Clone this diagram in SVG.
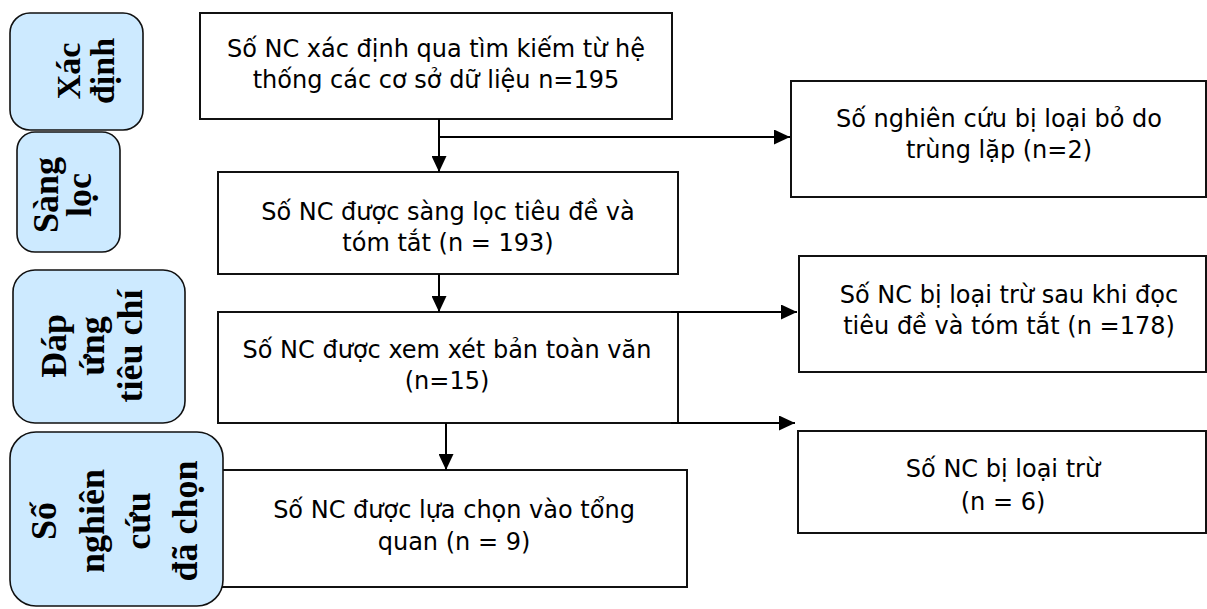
<svg xmlns="http://www.w3.org/2000/svg" width="1207" height="609" viewBox="0 0 1207 609">
<defs>
<style>
.box{fill:#ffffff;stroke:#111111;stroke-width:2}
.lbl{fill:#cdeaff;stroke:#111111;stroke-width:1.6}
.t{font-family:"DejaVu Sans","Noto Sans",sans-serif;font-size:24px;fill:#000;text-anchor:middle}
.v{font-family:"Liberation Serif","Times New Roman",serif;font-weight:bold;font-size:36px;fill:#000;text-anchor:middle}
.c{fill:none;stroke:#000;stroke-width:2}
</style>
<marker id="ah" viewBox="0 0 16 15" refX="16" refY="7.5" markerWidth="16" markerHeight="15" markerUnits="userSpaceOnUse" orient="auto">
<path d="M0,0 L16,7.5 L0,15 z" fill="#000"/>
</marker>
</defs>
<rect width="1207" height="609" fill="#ffffff"/>

<g id="n1">
<rect class="box" x="200" y="13" width="472" height="106"/>
<text class="t" x="436" y="57">Số NC xác định qua tìm kiếm từ hệ</text>
<text class="t" x="436" y="88">thống các cơ sở dữ liệu n=195</text>
</g>
<g id="n2">
<rect class="box" x="218" y="172" width="460" height="102"/>
<text class="t" x="448" y="220">Số NC được sàng lọc tiêu đề và</text>
<text class="t" x="448" y="251">tóm tắt (n = 193)</text>
</g>
<g id="n3">
<rect class="box" x="218" y="312" width="460" height="111"/>
<text class="t" x="447" y="358">Số NC được xem xét bản toàn văn</text>
<text class="t" x="447" y="389">(n=15)</text>
</g>
<g id="n4">
<rect class="box" x="220" y="470" width="467" height="117"/>
<text class="t" x="454" y="518">Số NC được lựa chọn vào tổng</text>
<text class="t" x="454" y="550">quan (n = 9)</text>
</g>
<g id="r1">
<rect class="box" x="791" y="81" width="415" height="116"/>
<text class="t" x="999" y="127">Số nghiên cứu bị loại bỏ do</text>
<text class="t" x="999" y="158">trùng lặp (n=2)</text>
</g>
<g id="r2">
<rect class="box" x="799" y="256" width="407" height="116"/>
<text class="t" x="1009" y="303">Số NC bị loại trừ sau khi đọc</text>
<text class="t" x="1009" y="334">tiêu đề và tóm tắt (n =178)</text>
</g>
<g id="r3">
<rect class="box" x="798" y="431" width="408" height="102"/>
<text class="t" x="1003" y="477">Số NC bị loại trừ</text>
<text class="t" x="1003" y="510">(n = 6)</text>
</g>

<g id="l1">
<rect class="lbl" x="10" y="13" width="133" height="117" rx="20"/>
<g transform="translate(0,71) rotate(-90)">
<text class="v" x="0" y="80" style="font-size:34px">Xác</text>
<text class="v" x="0" y="114" style="font-size:34px">định</text>
</g>
</g>
<g id="l2">
<rect class="lbl" x="17" y="132" width="103" height="120" rx="18"/>
<g transform="translate(0,195) rotate(-90)">
<text class="v" x="0" y="58">Sàng</text>
<text class="v" x="0" y="91">lọc</text>
</g>
</g>
<g id="l3">
<rect class="lbl" x="13" y="270" width="172" height="153" rx="22"/>
<g transform="translate(0,346) rotate(-90)">
<text class="v" x="0" y="66">Đáp</text>
<text class="v" x="0" y="104">ứng</text>
<text class="v" x="0" y="142">tiêu chí</text>
</g>
</g>
<g id="l4">
<rect class="lbl" x="10" y="432" width="213" height="174" rx="26"/>
<g transform="translate(0,521) rotate(-90)">
<text class="v" x="0" y="56">Số</text>
<text class="v" x="0" y="104">nghiên</text>
<text class="v" x="0" y="150">cứu</text>
<text class="v" x="0" y="197">đã chọn</text>
</g>
</g>

<g id="connectors">
<line class="c" x1="439" y1="119" x2="439" y2="172" marker-end="url(#ah)"/>
<line class="c" x1="439" y1="137" x2="790" y2="137" marker-end="url(#ah)"/>
<line class="c" x1="439" y1="274" x2="439" y2="312" marker-end="url(#ah)"/>
<line class="c" x1="671" y1="312" x2="797" y2="312" marker-end="url(#ah)"/>
<line class="c" x1="671" y1="423" x2="795" y2="423" marker-end="url(#ah)"/>
<line class="c" x1="446" y1="423" x2="446" y2="470" marker-end="url(#ah)"/>
</g>
</svg>
